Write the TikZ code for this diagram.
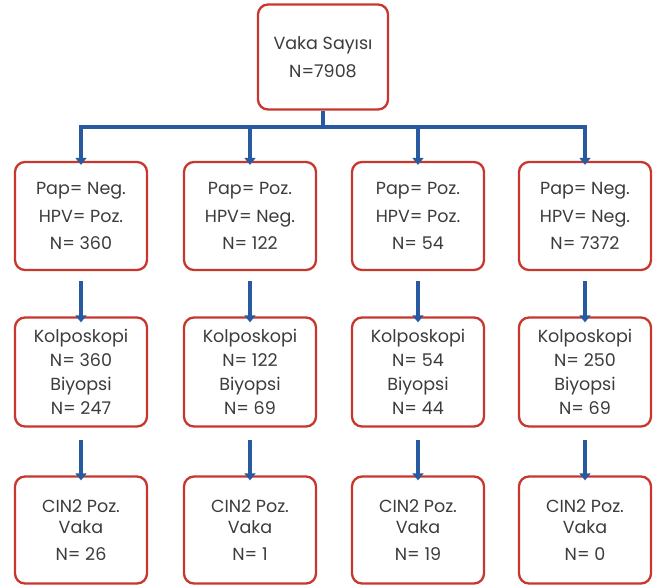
\documentclass[tikz,border=0pt]{standalone}
\usepackage{fontspec}
\setmainfont{Poppins}
\usetikzlibrary{arrows.meta}
\definecolor{boxred}{RGB}{200,55,45}
\definecolor{arrblue}{RGB}{40,90,160}
\definecolor{txt}{RGB}{60,60,60}
\begin{document}
\begin{tikzpicture}[x=1pt,y=-1pt,
  box/.style={draw=boxred,line width=2.3pt,rounded corners=10pt,fill=white,
    minimum width=132pt,minimum height=108pt,align=center,text=txt,
    font=\fontsize{17.5}{27.5}\selectfont,inner sep=0pt},
  box2/.style={box,font=\fontsize{17.5}{24}\selectfont},
  box3/.style={box,font=\fontsize{17.5}{21}\selectfont},
  arr/.style={draw=arrblue,line width=3.5pt,-{Triangle[width=11pt,length=7pt]}},
  ln/.style={draw=arrblue,line width=3.5pt}]
\useasboundingbox (0,0) rectangle (660,587);
\node[box,minimum width=130pt,minimum height=105pt] (top) at (323,57) {Vaka Sayısı\\N=7908};
\foreach \i/\x/\a/\b/\c in {1/81/Pap= Neg./HPV= Poz./N= 360, 2/250/Pap= Poz./HPV= Neg./N= 122, 3/418/Pap= Poz./HPV= Poz./N= 54, 4/585/Pap= Neg./HPV= Neg./N= 7372}{
  \node[box] (r\i) at (\x,216) {\a\\\b\\\c};
}
\foreach \i/\x/\a/\b in {1/81/360/247, 2/250/122/69, 3/418/54/44, 4/585/250/69}{
  \node[box2,minimum height=109pt] (k\i) at (\x,372) {Kolposkopi\\N= \a\\Biyopsi\\N= \b};
}
\foreach \i/\x/\a in {1/81/26, 2/250/1, 3/418/19, 4/585/0}{
  \node[box3,minimum height=107pt] (c\i) at (\x,530) {CIN2 Poz.\\Vaka\\[6pt]N= \a};
}
\coordinate (j) at (top.south |- 0,127);
\coordinate (jl) at (r1.north |- 0,127);
\coordinate (jr) at (r4.north |- 0,127);
\draw[ln] (top.south) -- (j);
\draw[ln,line cap=rect] (jl) -- (jr);
\foreach \i in {1,...,4}{
  \draw[arr] (r\i.north |- j) -- ([yshift=-4pt]r\i.north);
  \draw[arr,shorten <=10pt] (r\i.south) -- ([yshift=-6pt]k\i.north);
  \draw[arr,shorten <=12pt] (k\i.south) -- ([yshift=-5pt]c\i.north);
}
\end{tikzpicture}
\end{document}
